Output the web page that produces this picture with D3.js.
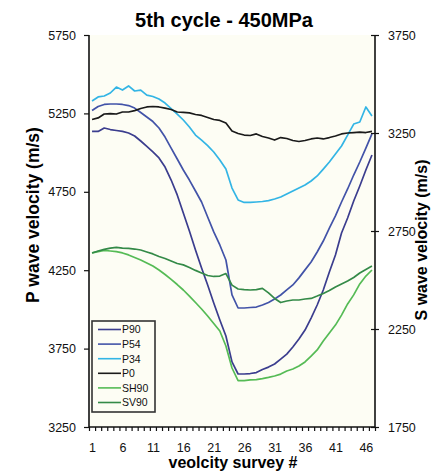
<!DOCTYPE html>
<html>
<head>
<meta charset="utf-8">
<script src="https://cdn.jsdelivr.net/npm/d3@7"></script>
<style>
  body { margin: 0; background: #fff; }
  svg { display: block; font-family: "Liberation Sans", Arial, sans-serif; }
</style>
</head>
<body>
<svg id="chart" width="431" height="475"></svg>
<script>
// survey numbers 1..47
var surveys = d3.range(1, 48);
var xTickLabels = [1, 6, 11, 16, 21, 26, 31, 36, 41, 46];
var leftTicks = [3250, 3750, 4250, 4750, 5250, 5750];
var rightTicks = [1750, 2250, 2750, 3250, 3750];

// P waves (left axis, m/s)
var p90 = [5135,5135,5157,5147,5141,5135,5125,5106,5074,5039,5004,4966,4908,4825,4730,4615,4500,4379,4264,4156,4041,3932,3830,3665,3588,3588,3591,3597,3617,3632,3652,3683,3715,3760,3811,3868,3945,4028,4124,4238,4347,4487,4583,4691,4787,4889,4985];
var p54 = [5268,5294,5307,5310,5310,5307,5300,5284,5256,5227,5198,5157,5099,5029,4959,4889,4825,4755,4685,4589,4494,4411,4315,4092,4009,4009,4012,4015,4028,4044,4066,4092,4124,4156,4201,4252,4302,4366,4436,4519,4596,4685,4768,4857,4940,5029,5119];
var p34 = [5329,5355,5361,5380,5418,5399,5425,5393,5399,5367,5358,5342,5316,5281,5246,5208,5163,5112,5080,5045,5004,4953,4895,4774,4698,4682,4682,4685,4688,4694,4704,4717,4736,4755,4774,4793,4819,4851,4895,4940,4991,5042,5112,5182,5195,5291,5233];
var p0 = [5211,5221,5246,5249,5246,5259,5259,5268,5281,5291,5294,5291,5284,5275,5259,5256,5253,5243,5237,5224,5211,5205,5189,5138,5122,5112,5109,5119,5103,5093,5080,5096,5090,5077,5071,5077,5087,5093,5087,5096,5106,5119,5125,5128,5131,5128,5135];
// S waves (right axis, m/s)
var sh90 = [2638,2645,2651,2648,2645,2638,2628,2615,2602,2587,2571,2551,2528,2503,2477,2449,2418,2385,2352,2316,2278,2240,2163,2051,1987,1987,1990,1992,1997,2003,2010,2020,2036,2046,2061,2082,2112,2143,2189,2230,2270,2321,2378,2424,2480,2520,2551];
var sv90 = [2638,2648,2656,2663,2666,2663,2661,2658,2653,2643,2633,2620,2610,2597,2584,2577,2564,2549,2536,2523,2518,2520,2533,2474,2454,2451,2449,2451,2457,2434,2406,2385,2393,2398,2398,2403,2406,2418,2431,2446,2464,2480,2495,2513,2536,2554,2571];

var seriesNames = ["P90", "P54", "P34", "P0", "SH90", "SV90"];
var seriesColors = ["#3b3d8e", "#4253a8", "#33b5e5", "#1a1a1a", "#55bb55", "#348a48"];

var series = [
  { name: seriesNames[0], values: p90, axis: "left" },
  { name: seriesNames[1], values: p54, axis: "left" },
  { name: seriesNames[2], values: p34, axis: "left" },
  { name: seriesNames[3], values: p0, axis: "left" },
  { name: seriesNames[4], values: sh90, axis: "right" },
  { name: seriesNames[5], values: sv90, axis: "right" }
];

// plot box
var plotL = 89, plotR = 375, plotT = 35, plotB = 427;

var svg = d3.select("#chart");

var x = d3.scaleBand().domain(surveys).range([plotL, plotR]);
var xEdge = d3.scaleLinear().domain([0.5, 47.5]).range([plotL, plotR]);
var yL = d3.scaleLinear().domain([3250, 5750]).range([plotB, plotT]);
var yR = d3.scaleLinear().domain([1750, 3750]).range([plotB, plotT]);

// plot background
svg.append("rect")
  .attr("x", plotL).attr("y", plotT)
  .attr("width", plotR - plotL).attr("height", plotB - plotT)
  .attr("fill", "#fdfdf4");

// lines
series.forEach(function(s, i) {
  var y = s.axis == "left" ? yL : yR;
  var line = d3.line()
    .x(function(d, j) { return x(surveys[j]) + x.bandwidth() / 2; })
    .y(function(d) { return y(d); });
  svg.append("path")
    .datum(s.values)
    .attr("d", line)
    .attr("fill", "none")
    .attr("stroke", seriesColors[i])
    .attr("stroke-width", 1.7)
    .attr("stroke-linejoin", "round");
});

// left axis
var gL = svg.append("g")
  .attr("transform", "translate(" + plotL + ",0)")
  .call(d3.axisLeft(yL).tickValues(leftTicks).tickSize(5).tickPadding(8).tickFormat(d3.format("d")));

// right axis, ticks cross the line
var gR = svg.append("g")
  .attr("transform", "translate(" + plotR + ",0)")
  .call(d3.axisRight(yR).tickValues(rightTicks).tickSize(4).tickPadding(9).tickFormat(d3.format("d")));
gR.selectAll(".tick line").attr("x1", -4);

// bottom axis: small ticks on every survey, labels every 5
var gB = svg.append("g")
  .attr("transform", "translate(0," + plotB + ")")
  .call(d3.axisBottom(xEdge).tickValues(d3.range(0.5, 48, 1)).tickSize(4).tickFormat(""));
var gB2 = svg.append("g")
  .attr("transform", "translate(0," + plotB + ")")
  .call(d3.axisBottom(xEdge).tickValues(xTickLabels).tickSize(0).tickPadding(16));
gB2.select(".domain").remove();

[gL, gR, gB].forEach(function(g) {
  g.select(".domain").attr("stroke", "#111").attr("stroke-width", 1.6);
  g.selectAll(".tick line").attr("stroke", "#111").attr("stroke-width", 1.2);
});
gL.select(".domain").attr("d", "M0," + plotT + "V" + plotB);
gR.select(".domain").attr("d", "M0," + plotT + "V" + plotB);
gB.select(".domain").attr("d", "M" + plotL + ",0H" + plotR);

[gL, gR, gB2].forEach(function(g) {
  g.selectAll("text")
    .attr("fill", "#111")
    .style("font-size", "12.5px")
    .style("font-family", "Liberation Sans, Arial, sans-serif");
});

// titles
svg.append("text")
  .attr("x", 224).attr("y", 26.5)
  .attr("text-anchor", "middle")
  .style("font-size", "20px").style("font-weight", "bold")
  .text("5th cycle - 450MPa");

svg.append("text")
  .attr("transform", "translate(39,215) rotate(-90)")
  .attr("text-anchor", "middle")
  .style("font-size", "17.5px").style("font-weight", "bold")
  .text("P wave velocity (m/s)");

svg.append("text")
  .attr("transform", "translate(427,240) rotate(-90)")
  .attr("text-anchor", "middle")
  .style("font-size", "16px").style("font-weight", "bold")
  .text("S wave velocity (m/s)");

svg.append("text")
  .attr("x", 233).attr("y", 468)
  .attr("text-anchor", "middle")
  .style("font-size", "16px").style("font-weight", "bold")
  .text("veolcity survey #");

// legend
var legend = svg.append("g").attr("transform", "translate(92,321)");
legend.append("rect")
  .attr("width", 63).attr("height", 91)
  .attr("fill", "#fdfdf4")
  .attr("stroke", "#333").attr("stroke-width", 1.6);
seriesNames.forEach(function(n, i) {
  var row = legend.append("g").attr("transform", "translate(0," + (8.5 + i * 14.6) + ")");
  row.append("line")
    .attr("x1", 6).attr("x2", 29)
    .attr("stroke", seriesColors[i]).attr("stroke-width", 1.6);
  row.append("text")
    .attr("x", 30).attr("y", 3.8)
    .style("font-size", "10.5px")
    .attr("fill", "#111")
    .text(n);
});
</script>
</body>
</html>
